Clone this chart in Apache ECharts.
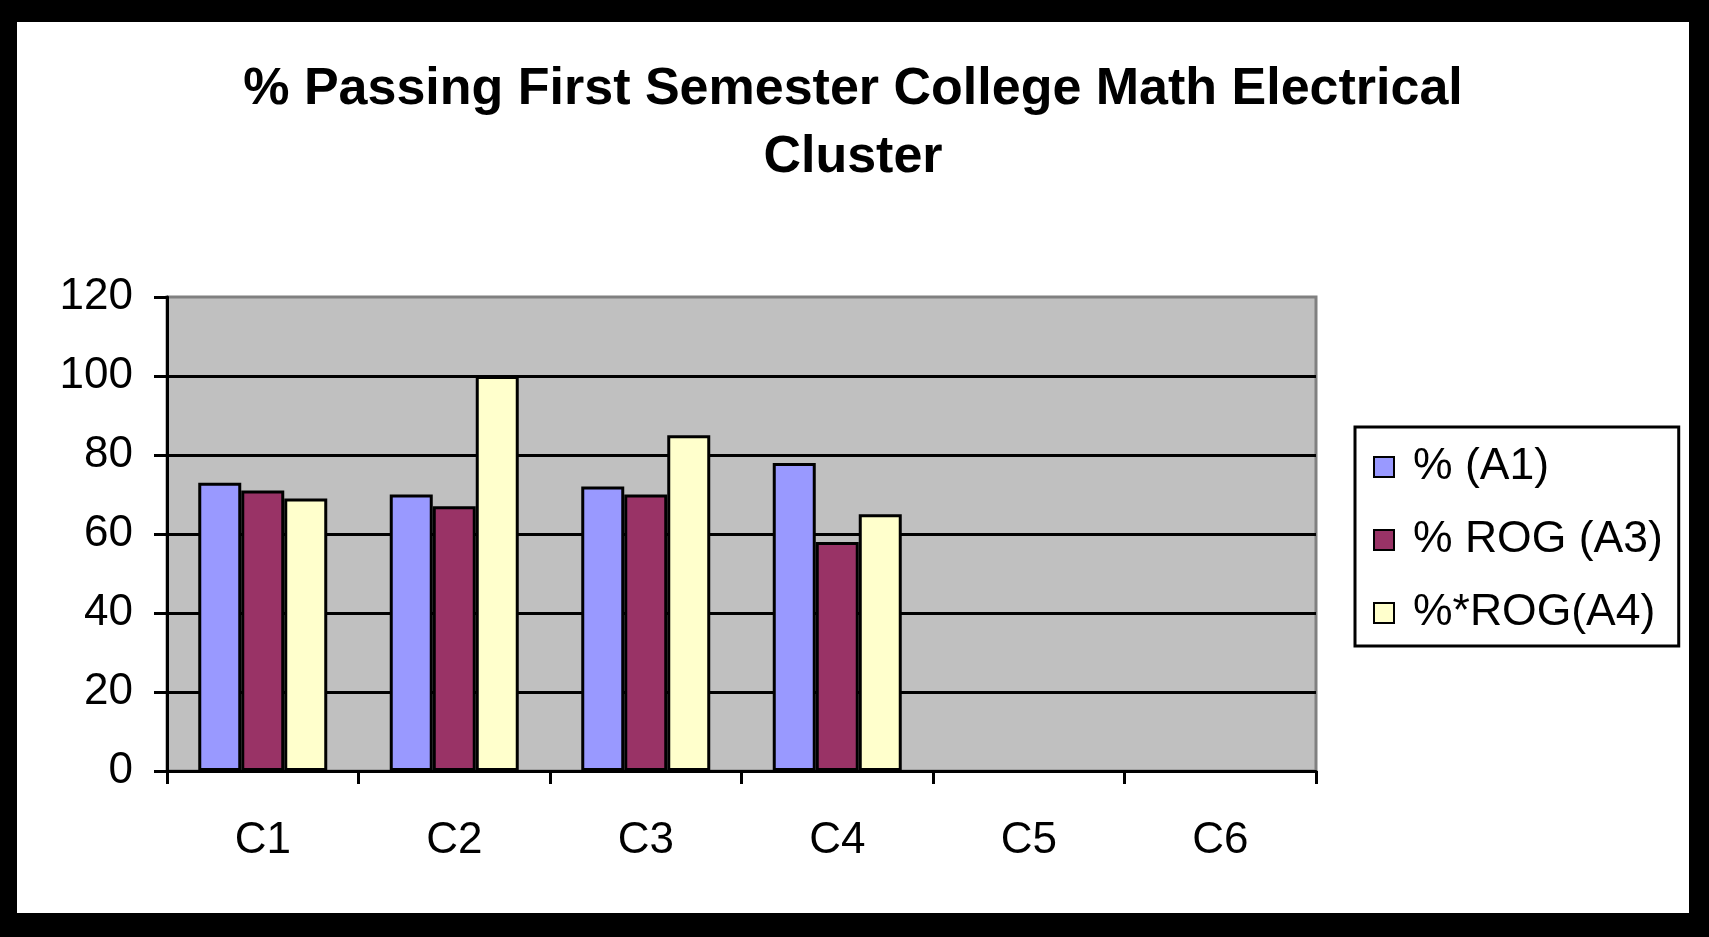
<!DOCTYPE html>
<html>
<head>
<meta charset="utf-8">
<script src="https://cdn.jsdelivr.net/npm/echarts@6/dist/echarts.min.js"></script>
<style>
html,body{margin:0;padding:0;background:#000;width:1709px;height:937px;overflow:hidden;}
#chart{position:absolute;left:17px;top:22px;width:1672px;height:891px;background:#fff;}
</style>
</head>
<body>
<div id="chart"></div>
<script>
var categories = ['C1', 'C2', 'C3', 'C4', 'C5', 'C6'];
var seriesNames = ['% (A1)', '% ROG (A3)', '%*ROG(A4)'];
var valuesA1 = [73, 70, 72, 78, null, null];
var valuesA3 = [71, 67, 70, 58, null, null];
var valuesA4 = [69, 100, 85, 65, null, null];
var yTicks = { min: 0, max: 120, interval: 20 };
var titleText = '% Passing First Semester College Math Electrical\nCluster';

var colors = ['#9999FF', '#993366', '#FFFFCC'];
var font = 'Liberation Sans, Arial, sans-serif';
var allValues = [valuesA1, valuesA3, valuesA4];

var chart = echarts.init(document.getElementById('chart'), null, { renderer: 'canvas' });

var series = seriesNames.map(function (name, i) {
  return {
    name: name,
    type: 'bar',
    data: allValues[i],
    barWidth: 43,
    barGap: '0%',
    itemStyle: { color: colors[i], borderColor: '#000', borderWidth: 3 },
    emphasis: { disabled: true },
    animation: false
  };
});

chart.setOption({
  animation: false,
  textStyle: { fontFamily: font },
  title: {
    text: titleText,
    left: 'center',
    top: 29,
    textStyle: { fontFamily: font, fontWeight: 'bold', fontSize: 52, lineHeight: 68, color: '#000' }
  },
  legend: {
    orient: 'vertical',
    left: 1338,
    top: 405,
    padding: [15, 16, 8, 18],
    itemWidth: 20,
    itemHeight: 20,
    itemGap: 23,
    borderColor: '#000',
    borderWidth: 3,
    backgroundColor: '#fff',
    selectedMode: false,
    icon: 'rect',
    textStyle: { fontFamily: font, fontSize: 44.5, lineHeight: 50, color: '#000', padding: [0, 0, 0, 14] },
    data: seriesNames
  },
  grid: {
    left: 150,
    top: 275,
    width: 1149,
    height: 474,
    show: true,
    backgroundColor: '#C0C0C0',
    borderColor: '#808080',
    borderWidth: 3,
    containLabel: false
  },
  xAxis: {
    type: 'category',
    data: categories,
    boundaryGap: true,
    axisLine: { show: true, lineStyle: { color: '#000', width: 3 } },
    axisTick: { show: true, length: 13, interval: 0, lineStyle: { color: '#000', width: 3 } },
    axisLabel: { fontFamily: font, fontSize: 44, color: '#000', margin: 48, interval: 0 },
    splitLine: { show: false }
  },
  yAxis: {
    type: 'value',
    min: yTicks.min,
    max: yTicks.max,
    interval: yTicks.interval,
    axisLine: { show: true, lineStyle: { color: '#000', width: 3 } },
    axisTick: { show: true, length: 13, lineStyle: { color: '#000', width: 3 } },
    axisLabel: { fontFamily: font, fontSize: 44, color: '#000', margin: 34 },
    splitLine: { show: true, showMaxLine: false, showMinLine: false, lineStyle: { color: '#000', width: 3 } }
  },
  series: series
});
</script>
</body>
</html>
